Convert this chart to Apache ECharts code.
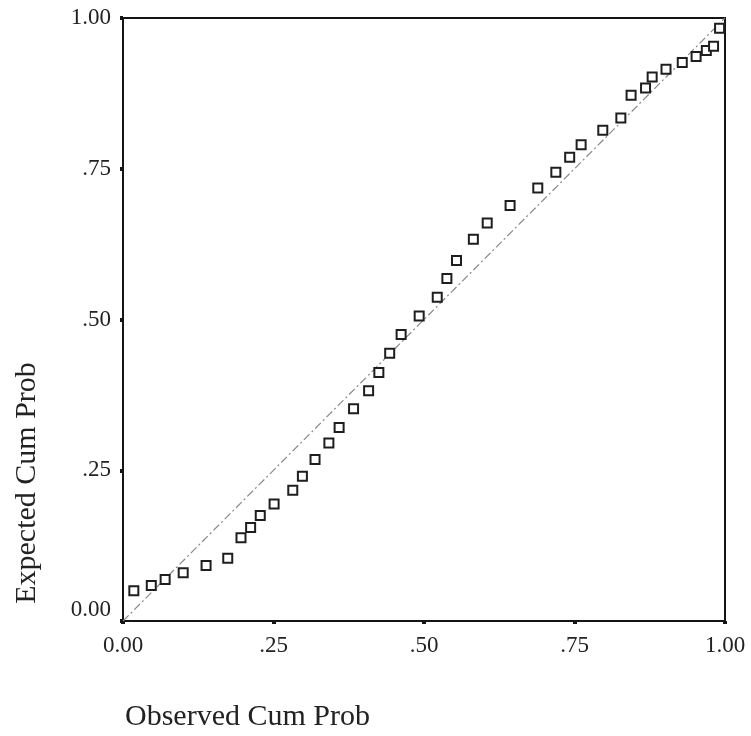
<!DOCTYPE html>
<html>
<head>
<meta charset="utf-8">
<script src="https://cdn.jsdelivr.net/npm/echarts@6/dist/echarts.min.js"></script>
<style>
  html, body { margin: 0; padding: 0; background: #fff; }
  #chart { width: 751px; height: 736px; }
</style>
</head>
<body>
<div id="chart"></div>
<script>
// P-P plot: observed vs expected cumulative probability
var observedCum = [0.018, 0.047, 0.070, 0.100, 0.138, 0.174, 0.196, 0.212, 0.228, 0.251,
  0.282, 0.298, 0.319, 0.342, 0.359, 0.383, 0.408, 0.425, 0.443, 0.462,
  0.492, 0.522, 0.538, 0.554, 0.582, 0.605, 0.643, 0.689, 0.719, 0.742,
  0.761, 0.797, 0.827, 0.844, 0.868, 0.879, 0.902, 0.929, 0.952, 0.969,
  0.981, 0.991];
var expectedCum = [0.050, 0.059, 0.069, 0.080, 0.092, 0.104, 0.138, 0.155, 0.175, 0.194,
  0.217, 0.240, 0.268, 0.295, 0.321, 0.352, 0.382, 0.412, 0.444, 0.475,
  0.506, 0.537, 0.568, 0.598, 0.633, 0.660, 0.689, 0.718, 0.744, 0.769,
  0.790, 0.814, 0.834, 0.872, 0.884, 0.902, 0.915, 0.926, 0.936, 0.946,
  0.953, 0.983];
var diagonal = [[0, 0], [1, 1]];
var tickValues = [0, 0.25, 0.5, 0.75, 1];
var tickLabels = ['0.00', '.25', '.50', '.75', '1.00'];

var FONT = 'Liberation Serif';
var points = observedCum.map(function (x, i) { return [x, expectedCum[i]]; });

function labelFor(v) {
  var i = tickValues.indexOf(Math.round(v * 100) / 100);
  return i >= 0 ? tickLabels[i] : '';
}

var chart = echarts.init(document.getElementById('chart'), null, { renderer: 'canvas' });
chart.setOption({
  backgroundColor: '#ffffff',
  animation: false,
  grid: {
    left: 123, right: 26, top: 18, bottom: 115,
    show: true, borderColor: '#151515', borderWidth: 2, backgroundColor: 'transparent'
  },
  xAxis: {
    type: 'value', min: 0, max: 1, interval: 0.25,
    axisLine: { show: true, lineStyle: { color: '#151515', width: 2 } },
    axisTick: { show: true, length: 3, lineStyle: { color: '#151515', width: 4 } },
    splitLine: { show: false },
    axisLabel: {
      margin: 13, color: '#222', fontFamily: FONT, fontSize: 23,
      formatter: function (v) { return labelFor(v); }
    }
  },
  yAxis: {
    type: 'value', min: 0, max: 1, interval: 0.25,
    axisLine: { show: true, lineStyle: { color: '#151515', width: 2 } },
    axisTick: { show: true, length: 3, lineStyle: { color: '#151515', width: 4 } },
    splitLine: { show: false },
    axisLabel: {
      margin: 12, color: '#222', fontFamily: FONT, fontSize: 23,
      formatter: function (v) {
        return v === 0 ? '{z|' + labelFor(v) + '}' : labelFor(v);
      },
      rich: { z: { fontFamily: FONT, fontSize: 23, color: '#222', padding: [0, 0, 22, 0] } }
    }
  },
  graphic: [
    {
      type: 'text', x: 125, y: 717,
      style: {
        text: 'Observed Cum Prob', fontFamily: FONT, fontSize: 30, fill: '#222',
        align: 'left', verticalAlign: 'middle'
      }
    },
    {
      type: 'text', x: 27, y: 483, rotation: Math.PI / 2,
      style: {
        text: 'Expected Cum Prob', fontFamily: FONT, fontSize: 30, fill: '#222',
        align: 'center', verticalAlign: 'middle'
      }
    }
  ],
  series: [
    {
      type: 'line', data: diagonal, symbol: 'none', silent: true,
      lineStyle: { color: '#888', width: 1.2, type: [8, 3, 2, 3] },
      z: 1
    },
    {
      type: 'scatter', data: points, symbol: 'rect', symbolSize: 9,
      itemStyle: { color: '#ffffff', borderColor: '#1e1e1e', borderWidth: 2, opacity: 1 },
      z: 3
    }
  ]
});
</script>
</body>
</html>
